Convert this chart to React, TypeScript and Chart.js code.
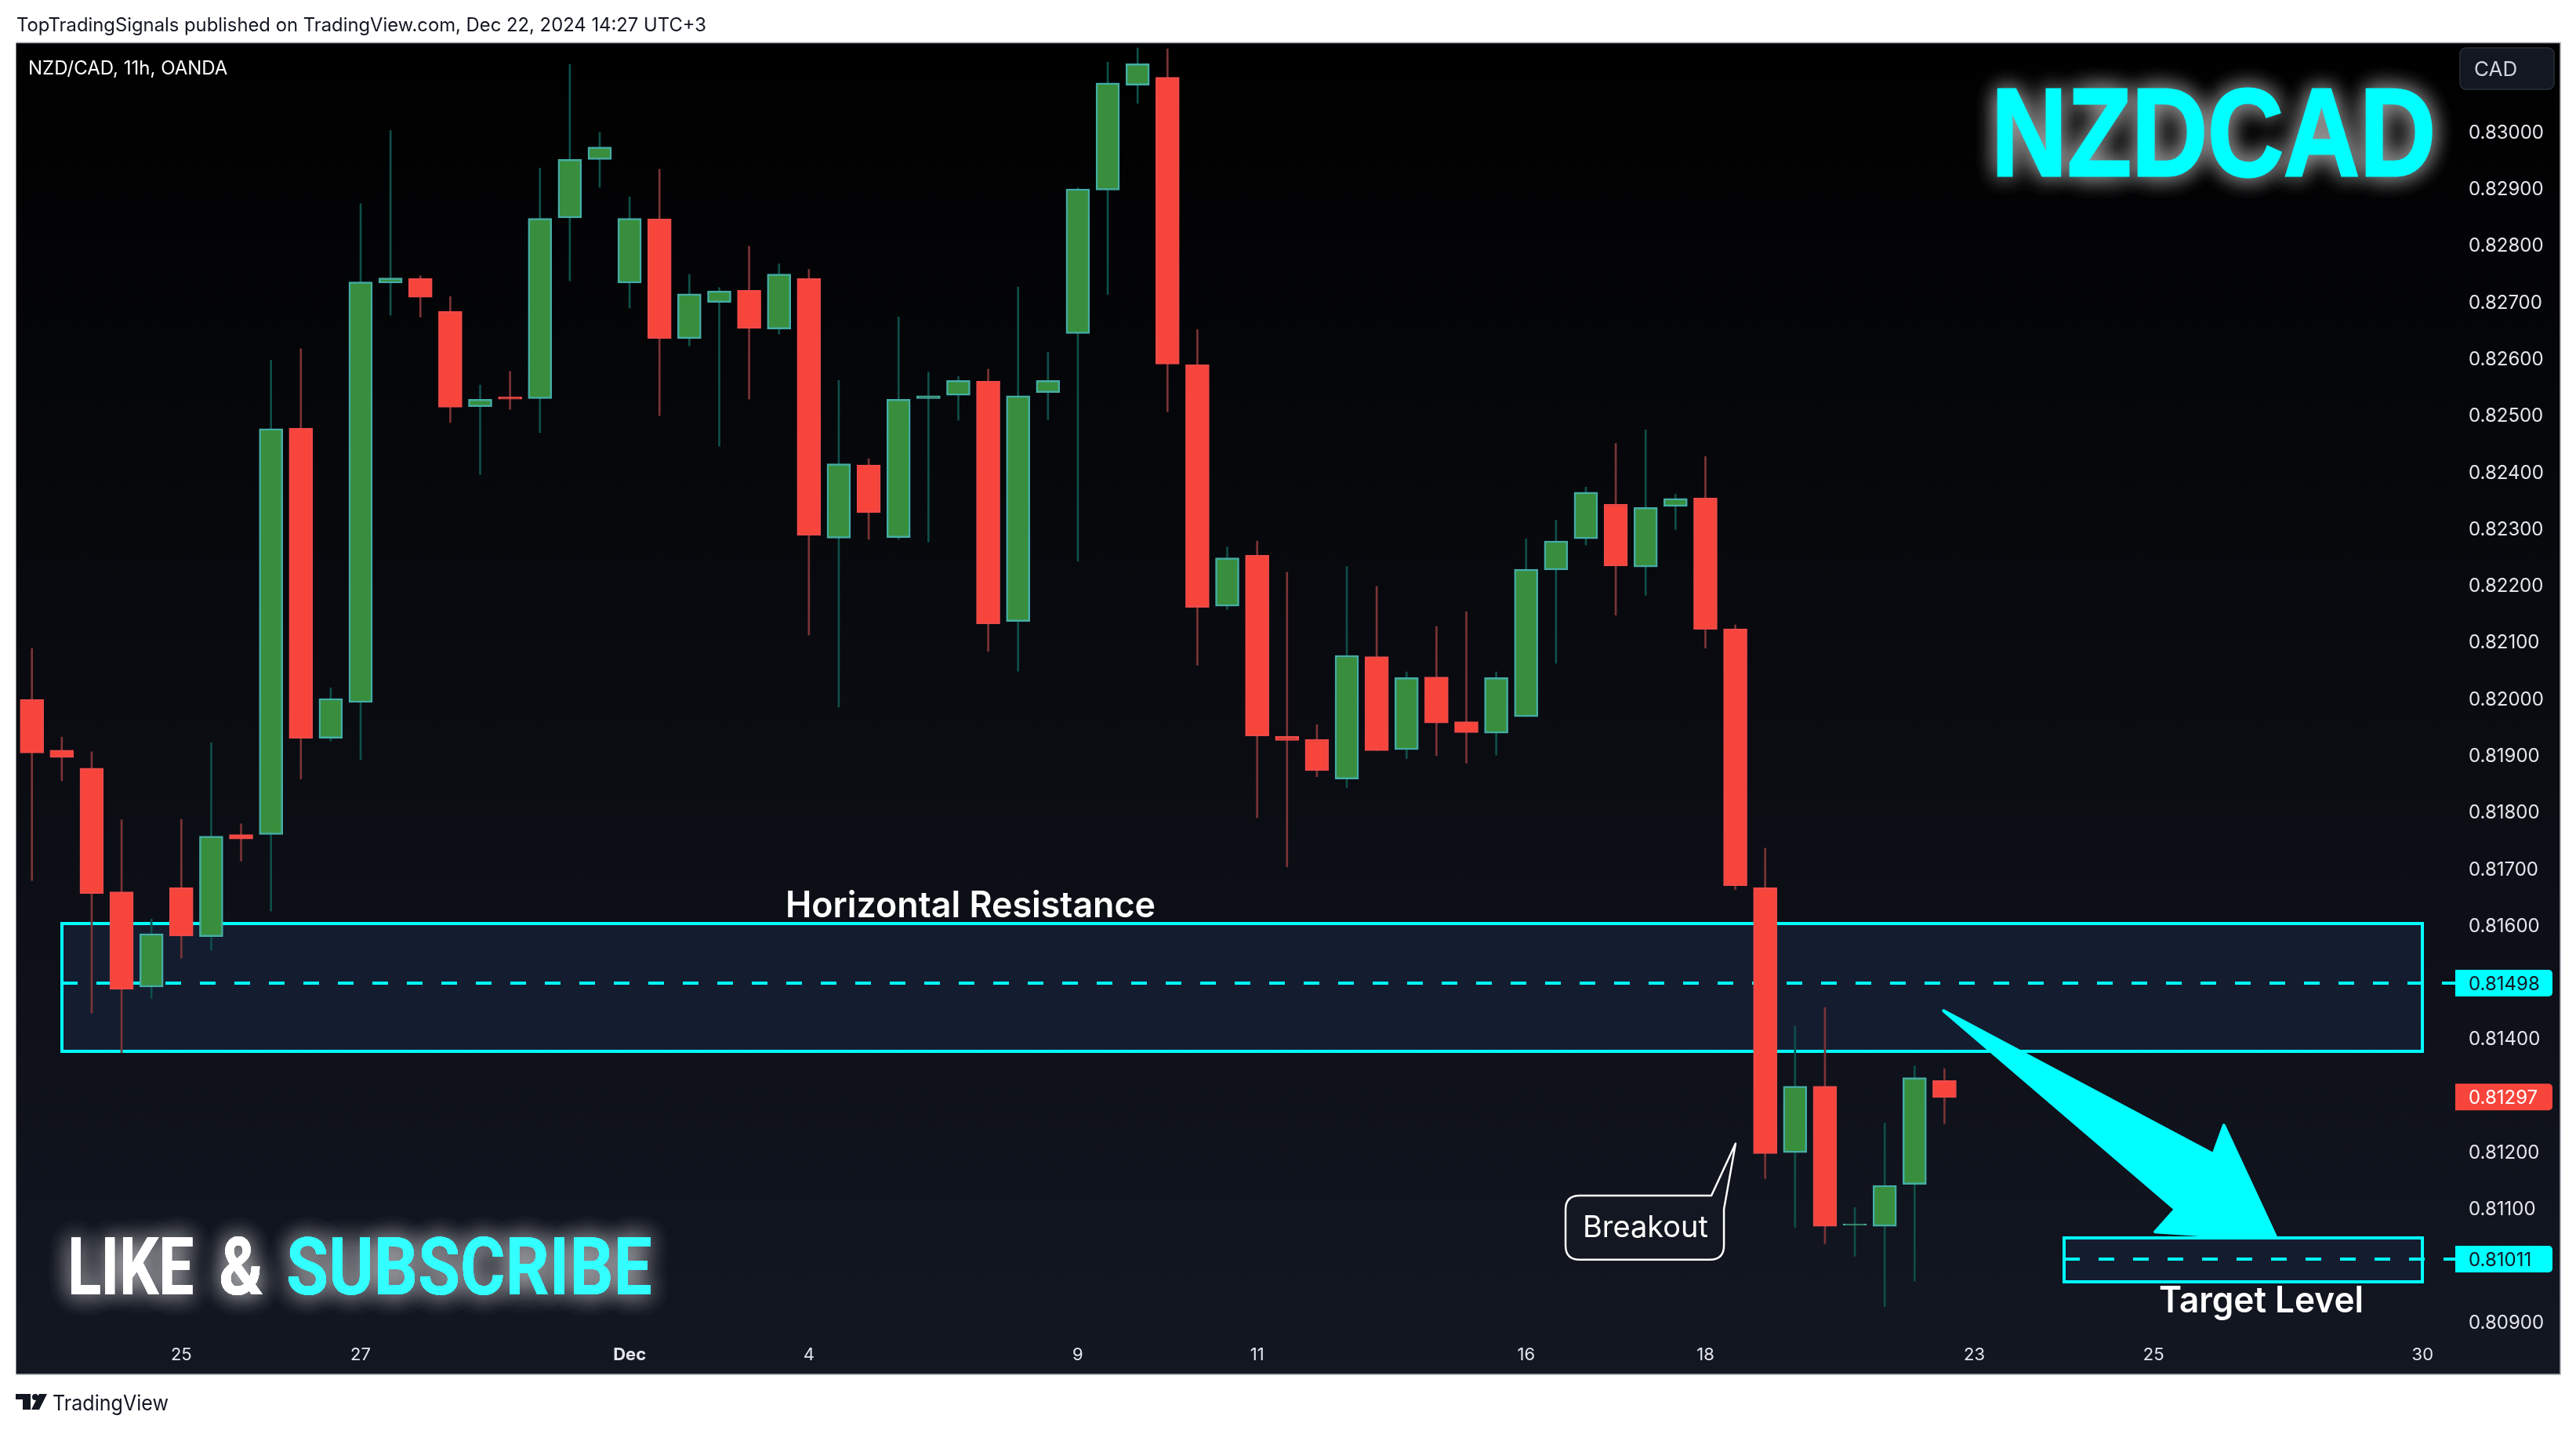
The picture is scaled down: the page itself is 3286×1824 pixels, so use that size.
import { useEffect, useRef } from "react";
import { Chart, registerables } from "chart.js";

Chart.register(...registerables);

const opens = [
  0.81998, 0.81909, 0.81877, 0.81659, 0.81491, 0.81666, 0.8158, 0.8176, 0.8176, 0.82477,
  0.8193, 0.81993, 0.82733, 0.82741, 0.82683, 0.82515, 0.82532, 0.82529, 0.82848, 0.82951,
  0.82733, 0.82846, 0.82635, 0.82699, 0.8272, 0.82652, 0.82741, 0.82283, 0.82412, 0.82284,
  0.82529, 0.82535, 0.8256, 0.82136, 0.8254, 0.82644, 0.82897, 0.83082, 0.83096, 0.82589,
  0.82163, 0.82253, 0.81933, 0.81928, 0.81858, 0.82074, 0.8191, 0.82038, 0.81959, 0.81939,
  0.81968, 0.82227, 0.82282, 0.82343, 0.82232, 0.82339, 0.82354, 0.82123, 0.81666, 0.81199,
  0.81316, 0.81071, 0.81069, 0.81143, 0.81326,
];
const closes = [
  0.81904, 0.81896, 0.81656, 0.81487, 0.81585, 0.81581, 0.81757, 0.81752, 0.82476, 0.8193,
  0.82, 0.82735, 0.82742, 0.82708, 0.82514, 0.82528, 0.82528, 0.82847, 0.82951, 0.82973,
  0.82847, 0.82635, 0.82714, 0.82719, 0.82653, 0.82749, 0.82288, 0.82414, 0.82328, 0.82528,
  0.82534, 0.82561, 0.82132, 0.82534, 0.82561, 0.82899, 0.83086, 0.8312, 0.8259, 0.82161,
  0.82248, 0.81934, 0.81926, 0.81873, 0.82076, 0.81908, 0.82037, 0.81957, 0.8194, 0.82037,
  0.82228, 0.82278, 0.82364, 0.82234, 0.82337, 0.82353, 0.82122, 0.8167, 0.81197, 0.81316,
  0.81069, 0.81073, 0.81141, 0.81331, 0.81296,
];
const highs = [
  0.82088, 0.81932, 0.81906, 0.81786, 0.81611, 0.81787, 0.81922, 0.81779, 0.82597, 0.82617,
  0.82019, 0.82873, 0.83002, 0.82746, 0.82709, 0.82553, 0.82577, 0.82936, 0.83119, 0.82999,
  0.82885, 0.82934, 0.82748, 0.82725, 0.82798, 0.82767, 0.82757, 0.82561, 0.82423, 0.82673,
  0.82576, 0.82568, 0.82581, 0.82726, 0.82611, 0.82901, 0.83123, 0.83148, 0.83146, 0.82651,
  0.82267, 0.82278, 0.82223, 0.81954, 0.82233, 0.82198, 0.82047, 0.82127, 0.82153, 0.82047,
  0.82282, 0.82315, 0.82373, 0.8245, 0.82474, 0.82361, 0.82427, 0.8213, 0.81736, 0.81422,
  0.81455, 0.81102, 0.81251, 0.81352, 0.81347,
];
const lows = [
  0.81679, 0.81855, 0.81445, 0.81375, 0.81471, 0.81542, 0.81556, 0.81713, 0.81625, 0.81858,
  0.81925, 0.81892, 0.82676, 0.82673, 0.82487, 0.82395, 0.8251, 0.82469, 0.82737, 0.82902,
  0.82689, 0.82499, 0.82622, 0.82445, 0.82528, 0.82643, 0.82112, 0.81985, 0.82281, 0.82281,
  0.82276, 0.82491, 0.82083, 0.82048, 0.82492, 0.82242, 0.82713, 0.8305, 0.82506, 0.82059,
  0.82157, 0.8179, 0.81703, 0.81862, 0.81843, 0.81908, 0.81894, 0.81899, 0.81886, 0.819,
  0.81968, 0.82062, 0.82271, 0.82147, 0.82182, 0.82298, 0.82089, 0.81663, 0.81153, 0.81067,
  0.81038, 0.81016, 0.80927, 0.80972, 0.8125,
];

const xTickIndex = [5, 11, 20, 26, 35, 41, 50, 56, 65, 71, 80];
const xTickLabels = ["25", "27", "Dec", "4", "9", "11", "16", "18", "23", "25", "30"];
const yTicks = [
  0.809, 0.811, 0.812, 0.814, 0.816, 0.817, 0.818, 0.819, 0.82, 0.821, 0.822, 0.823, 0.824,
  0.825, 0.826, 0.827, 0.828, 0.829, 0.83,
];

const resistance = { from: 1, to: 80, top: 0.81603, bottom: 0.81378, level: 0.81498 };
const target = { from: 68, to: 80, top: 0.81049, bottom: 0.80971, level: 0.81011 };
const lastPrice = 0.81297;

const arrowPoints = [
  [63.97, 0.81449],
  [73.0, 0.81196],
  [73.35, 0.81247],
  [75.08, 0.81051],
  [73.35, 0.81051],
  [71.05, 0.81059],
  [71.73, 0.81099],
];

const CYAN = "#00ffff";
const FONT = "Inter";

function glowText(ctx, text, x, y, maxWidth, color, font, blur, stroke = 0) {
  ctx.save();
  ctx.font = font;
  ctx.textBaseline = "alphabetic";
  ctx.shadowColor = "rgba(255,255,255,0.38)";
  ctx.shadowBlur = blur;
  ctx.fillStyle = color;
  ctx.strokeStyle = color;
  ctx.lineWidth = stroke;
  ctx.lineJoin = "miter";
  for (let n = 0; n < 3; n++) {
    ctx.fillText(text, x, y, maxWidth);
  }
  ctx.shadowColor = "transparent";
  if (stroke) ctx.strokeText(text, x, y, maxWidth);
  ctx.fillText(text, x, y, maxWidth);
  ctx.restore();
}

function plainText(ctx, text, x, y, color, font, maxWidth) {
  ctx.font = font;
  ctx.fillStyle = color;
  ctx.textBaseline = "alphabetic";
  ctx.fillText(text, x, y, maxWidth);
}

function priceTag(ctx, text, y, bg, color) {
  ctx.fillStyle = bg;
  ctx.beginPath();
  ctx.roundRect(3132, y - 17, 124, 34, [0, 5, 5, 0]);
  ctx.fill();
  ctx.font = `24px ${FONT}`;
  ctx.fillStyle = color;
  ctx.textBaseline = "middle";
  ctx.fillText(text, 3149, y + 2);
}

const backdrop = {
  id: "backdrop",
  beforeDraw(chart) {
    const { ctx, scales } = chart;
    const { x, y } = scales;
    ctx.save();
    const grad = ctx.createLinearGradient(0, 54, 0, 1753);
    grad.addColorStop(0, "#000000");
    grad.addColorStop(1, "#131722");
    ctx.fillStyle = grad;
    ctx.fillRect(20.5, 54.5, 3245.5, 1698.5);
    ctx.strokeStyle = "#a6a9b3";
    ctx.lineWidth = 1.5;
    ctx.beginPath();
    ctx.moveTo(20.5, 1753);
    ctx.lineTo(3266, 1753);
    ctx.lineTo(3266, 54.5);
    ctx.lineTo(20.5, 54.5);
    ctx.stroke();

    plainText(ctx, "TopTradingSignals published on TradingView.com, Dec 22, 2024 14:27 UTC+3", 21, 40, "#131722", `24px ${FONT}`, 880);
    plainText(ctx, "TradingView", 67, 1799, "#131722", `27px ${FONT}`, 148);

    // logo
    ctx.fillStyle = "#131722";
    ctx.fillRect(20, 1778, 19, 7);
    ctx.fillRect(29, 1778, 10, 20);
    ctx.beginPath();
    ctx.arc(45, 1782, 4, 0, Math.PI * 2);
    ctx.fill();
    ctx.beginPath();
    ctx.moveTo(50, 1778);
    ctx.lineTo(60, 1778);
    ctx.lineTo(50, 1798);
    ctx.lineTo(40, 1798);
    ctx.closePath();
    ctx.fill();

    // zones sit under the candles
    for (const zone of [resistance, target]) {
      const left = Math.round(x.getPixelForValue(zone.from));
      const right = Math.round(x.getPixelForValue(zone.to));
      const top = Math.round(y.getPixelForValue(zone.top));
      const bottom = Math.round(y.getPixelForValue(zone.bottom));
      const mid = Math.round(y.getPixelForValue(zone.level));
      ctx.fillStyle = "#141d2f";
      ctx.fillRect(left, top, right - left, bottom - top);
      ctx.strokeStyle = CYAN;
      ctx.lineWidth = 4;
      ctx.setLineDash([]);
      ctx.strokeRect(left, top, right - left, bottom - top);
      ctx.setLineDash([20, 24]);
      ctx.beginPath();
      ctx.moveTo(left, mid);
      ctx.lineTo(chart.chartArea.right + 2, mid);
      ctx.stroke();
      ctx.setLineDash([]);
    }
    ctx.restore();
  },
};

const overlay = {
  id: "overlay",
  afterDraw(chart) {
    const { ctx, scales } = chart;
    const { x, y } = scales;
    ctx.save();

    // arrow
    ctx.fillStyle = CYAN;
    ctx.strokeStyle = CYAN;
    ctx.lineWidth = 4;
    ctx.lineJoin = "round";
    ctx.beginPath();
    arrowPoints.forEach(([i, p], n) => {
      if (n === 0) ctx.moveTo(x.getPixelForValue(i), y.getPixelForValue(p));
      else ctx.lineTo(x.getPixelForValue(i), y.getPixelForValue(p));
    });
    ctx.closePath();
    ctx.fill();
    ctx.stroke();

    // breakout callout
    const bl = x.getPixelForValue(51.32);
    const br = x.getPixelForValue(56.62);
    const bt = y.getPixelForValue(0.81123);
    const bb = y.getPixelForValue(0.8101);
    const r = 18;
    ctx.beginPath();
    ctx.moveTo(bl + r, bt);
    ctx.lineTo(x.getPixelForValue(56.2), bt);
    ctx.lineTo(x.getPixelForValue(57.01), y.getPixelForValue(0.81215));
    ctx.lineTo(br, y.getPixelForValue(0.81099));
    ctx.lineTo(br, bb - r);
    ctx.quadraticCurveTo(br, bb, br - r, bb);
    ctx.lineTo(bl + r, bb);
    ctx.quadraticCurveTo(bl, bb, bl, bb - r);
    ctx.lineTo(bl, bt + r);
    ctx.quadraticCurveTo(bl, bt, bl + r, bt);
    ctx.closePath();
    ctx.fillStyle = "#131722";
    ctx.fill();
    ctx.strokeStyle = "#ffffff";
    ctx.lineWidth = 2.5;
    ctx.stroke();

    ctx.textAlign = "left";
    plainText(ctx, "Breakout", 2019, 1578, "#ffffff", `38px ${FONT}`, 160);
    plainText(ctx, "Horizontal Resistance", 1002, 1170, "#ffffff", `600 46px ${FONT}`, 472);
    plainText(ctx, "Target Level", 2754, 1674, "#ffffff", `600 46px ${FONT}`, 261);
    plainText(ctx, "NZD/CAD, 11h, OANDA", 36, 95, "#ffffff", `24px ${FONT}`, 255);

    // CAD button
    ctx.fillStyle = "#131722";
    ctx.strokeStyle = "#2a2e39";
    ctx.lineWidth = 1.5;
    ctx.beginPath();
    ctx.roundRect(3138, 61, 120, 53, 8);
    ctx.fill();
    ctx.stroke();
    plainText(ctx, "CAD", 3156, 97, "#d1d4dc", `26px ${FONT}`, 58);

    priceTag(ctx, resistance.level.toFixed(5), y.getPixelForValue(resistance.level), CYAN, "#131722");
    priceTag(ctx, lastPrice.toFixed(5), y.getPixelForValue(lastPrice), "#f7453b", "#ffffff");
    priceTag(ctx, target.level.toFixed(5), y.getPixelForValue(target.level), CYAN, "#131722");

    glowText(ctx, "NZDCAD", 2540, 224, 567, CYAN, "700 160px 'Liberation Sans'", 30, 3);
    glowText(ctx, "LIKE", 86, 1651, 161, "#ffffff", "700 102px Roboto", 30);
    glowText(ctx, "&", 279, 1651, 57, "#ffffff", "700 102px Roboto", 30);
    glowText(ctx, "SUBSCRIBE", 365, 1651, 467, "#33ffff", "700 102px Roboto", 30);
    ctx.restore();
  },
};

export default function App() {
  const chartRef = useRef<HTMLCanvasElement | null>(null);

  useEffect(() => {
    document.body.style.margin = "0";
    const canvas = chartRef.current;
    if (!canvas) return;

    const index = opens.map((_, i) => i);
    const isUp = (i: number) => closes[i] >= opens[i];

    const chart = new Chart(canvas, {
      type: "bar",
      data: {
        datasets: [
          {
            label: "body",
            order: 1,
            data: index.map((i) => ({ x: i, y: [opens[i], closes[i]] })),
            backgroundColor: index.map((i) => (isUp(i) ? "#388e3c" : "#f7453b")),
            borderColor: index.map((i) => (isUp(i) ? "#45ada6" : "#ef4a48")),
            borderWidth: 2.5,
            borderSkipped: false,
            barThickness: 30,
            grouped: false,
          },
          {
            label: "wick",
            order: 2,
            data: index.map((i) => ({ x: i, y: [lows[i], highs[i]] })),
            backgroundColor: index.map((i) => (isUp(i) ? "#0f4f4a" : "#7b3436")),
            borderWidth: 0,
            barThickness: 2,
            grouped: false,
          },
        ],
      },
      options: {
        responsive: false,
        animation: false,
        devicePixelRatio: 1,
        layout: { padding: { left: 20.5, top: 54.5, right: 0, bottom: 0 } },
        plugins: { legend: { display: false }, tooltip: { enabled: false } },
        scales: {
          x: {
            type: "linear",
            offset: false,
            min: -0.53,
            max: 81.04,
            border: { display: false },
            grid: { display: false, drawTicks: false, offset: false },
            afterBuildTicks: (scale) => {
              scale.ticks = xTickIndex.map((value) => ({ value }));
            },
            afterFit: (scale) => {
              scale.height = 111;
            },
            ticks: {
              autoSkip: false,
              maxRotation: 0,
              padding: 2,
              color: "#e4e6ec",
              font: (ctx) => ({
                family: FONT,
                size: 22,
                weight: ctx.tick && ctx.tick.value === 20 ? "bold" : "normal",
              }),
              callback: (value) => xTickLabels[xTickIndex.indexOf(value)],
            },
          },
          y: {
            position: "right",
            min: 0.80863,
            max: 0.83157,
            border: { display: false },
            grid: { display: false, drawTicks: false },
            afterBuildTicks: (scale) => {
              scale.ticks = yTicks.map((value) => ({ value }));
            },
            afterFit: (scale) => {
              scale.width = 156;
            },
            ticks: {
              autoSkip: false,
              padding: 19,
              labelOffset: 1.5,
              color: "#e4e6ec",
              font: { family: FONT, size: 24 },
              callback: (value) => Number(value).toFixed(5),
            },
          },
        },
      },
      plugins: [backdrop, overlay],
    });

    return () => chart.destroy();
  }, []);

  return <canvas ref={chartRef} width={3286} height={1824} style={{ display: "block" }} />;
}
